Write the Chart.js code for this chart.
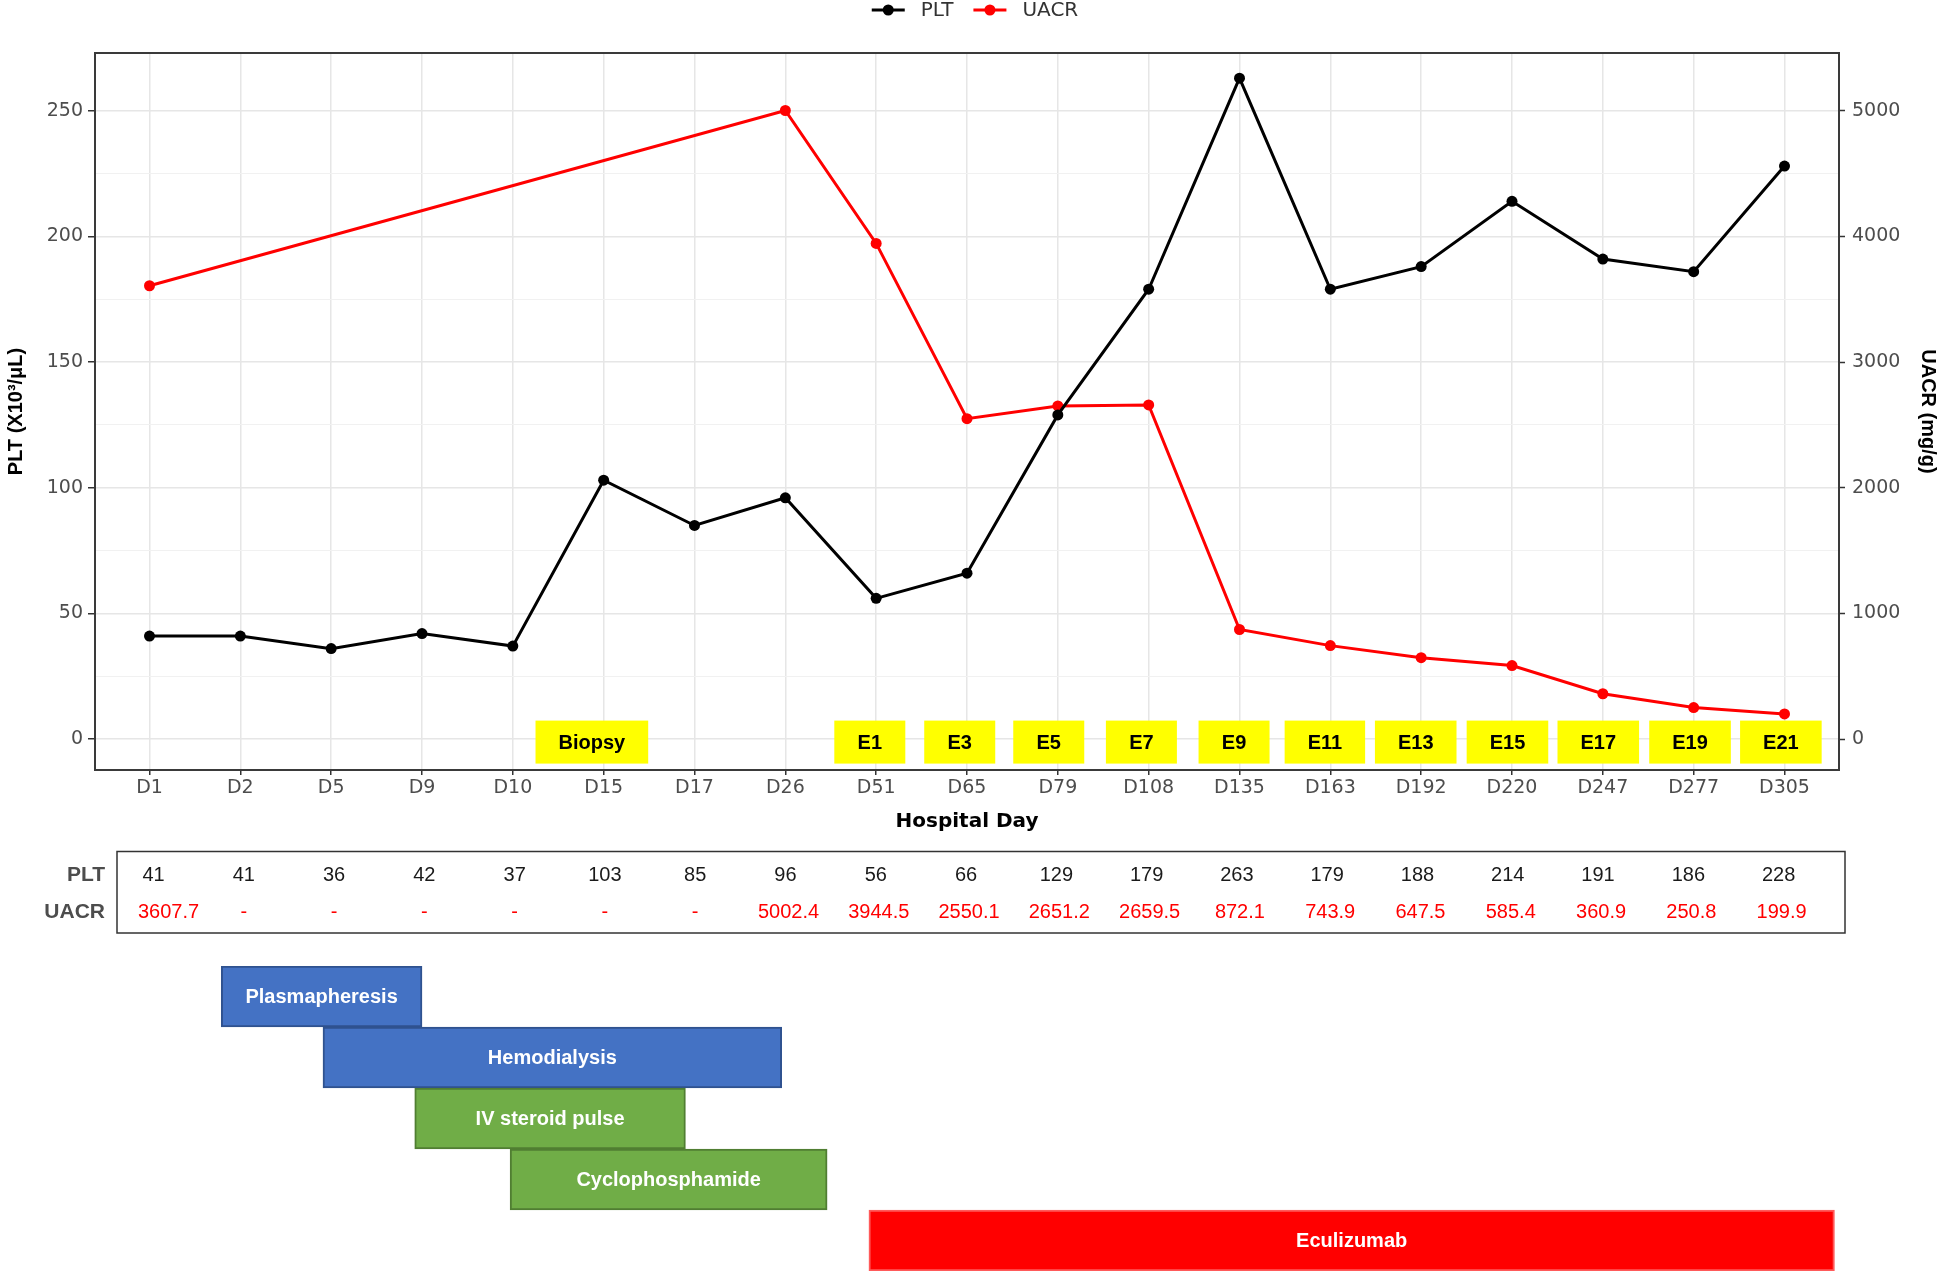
<!DOCTYPE html>
<html>
<head>
<meta charset="utf-8">
<script src="https://cdn.jsdelivr.net/npm/chart.js@4.4.1/dist/chart.umd.min.js"></script>
<style>
  html, body { margin: 0; padding: 0; background: #ffffff; }
  #wrap { position: relative; width: 1946px; height: 1275px; overflow: hidden; }
  #main { position: absolute; left: 0; top: 0; }
  #gantt { position: absolute; left: 0; top: 966px; }
</style>
</head>
<body>
<div id="wrap">
  <canvas id="main" width="1946" height="955"></canvas>
  <canvas id="gantt" width="1946" height="305"></canvas>
</div>
<script>
// ---------- data ----------
const days = ['D1','D2','D5','D9','D10','D15','D17','D26','D51','D65','D79','D108','D135','D163','D192','D220','D247','D277','D305'];
const plt = [41, 41, 36, 42, 37, 103, 85, 96, 56, 66, 129, 179, 263, 179, 188, 214, 191, 186, 228];
const uacr = [3607.7, null, null, null, null, null, null, 5002.4, 3944.5, 2550.1, 2651.2, 2659.5, 872.1, 743.9, 647.5, 585.4, 360.9, 250.8, 199.9];
const pltTicks = [0, 50, 100, 150, 200, 250];
const uacrTicks = [0, 1000, 2000, 3000, 4000, 5000];
const eventLabels = ['Biopsy','E1','E3','E5','E7','E9','E11','E13','E15','E17','E19','E21'];
const eventPos = [4.87, 7.93, 8.92, 9.9, 10.92, 11.94, 12.94, 13.94, 14.95, 15.95, 16.96, 17.96];
const treatments = ['Plasmapheresis','Hemodialysis','IV steroid pulse','Cyclophosphamide','Eculizumab'];
const treatStart = [0.79, 1.91, 2.92, 3.97, 7.92];
const treatEnd = [3.0, 6.96, 5.9, 7.46, 18.55];
const treatFill = ['#4472c4','#4472c4','#70ad47','#70ad47','#ff0000'];
const treatBorder = ['#2f528f','#2f528f','#507e32','#507e32','#ff5a5a'];

// ---------- scale settings ----------
const PLT_MIN = -12.3, PLT_MAX = 273, RATIO = 20;
const X_MIN = -0.6, X_MAX = days.length - 1 + 0.6;

const yGrid = [];
pltTicks.forEach((v, i) => {
  yGrid.push(v);
  if (i < pltTicks.length - 1) yGrid.push((v + pltTicks[i + 1]) / 2);
});
const isMajor = (c) => c.tick && pltTicks.includes(c.tick.value);

const TICK_FONT = { family: 'DejaVu Sans', size: 19 };
const TICK_COLOR = '#4d4d4d';

const extras = {
  id: 'extras',
  afterDatasetsDraw(chart) {
    const { ctx, scales: { x, y } } = chart;
    ctx.save();
    ctx.font = 'bold 20px "Liberation Sans"';
    ctx.textAlign = 'center';
    ctx.textBaseline = 'middle';
    eventLabels.forEach((lab, i) => {
      const cx = x.getPixelForValue(eventPos[i]);
      const cy = y.getPixelForValue(0) + 3;
      const w = Math.max(71, ctx.measureText(lab).width + 46);
      const h = 43;
      ctx.fillStyle = '#ffff00';
      ctx.fillRect(cx - w / 2, cy - h / 2, w, h);
      ctx.fillStyle = '#000000';
      ctx.fillText(lab, cx, cy + 1);
    });
    ctx.restore();
  },
  afterDraw(chart) {
    const { ctx, chartArea: ca, scales: { x } } = chart;
    ctx.save();
    // panel border
    ctx.strokeStyle = '#3a3a3a';
    ctx.lineWidth = 2;
    ctx.strokeRect(ca.left, ca.top, ca.right - ca.left, ca.bottom - ca.top);

    // legend
    ctx.font = '20px "DejaVu Sans"';
    ctx.textBaseline = 'middle';
    ctx.textAlign = 'left';
    const items = chart.data.datasets.map(ds => ({ label: ds.label, color: ds.borderColor, w: ctx.measureText(ds.label).width }));
    const keyW = 33, gapKT = 16, gapItems = 20;
    let total = 0;
    items.forEach((it, i) => { total += keyW + gapKT + it.w + (i ? gapItems : 0); });
    let lx = chart.width / 2 + 2 - total / 2;
    const ly = 10;
    items.forEach(it => {
      ctx.strokeStyle = it.color;
      ctx.lineWidth = 3;
      ctx.beginPath(); ctx.moveTo(lx, ly); ctx.lineTo(lx + keyW, ly); ctx.stroke();
      ctx.fillStyle = it.color;
      ctx.beginPath(); ctx.arc(lx + keyW / 2, ly, 5.5, 0, Math.PI * 2); ctx.fill();
      ctx.fillStyle = '#333333';
      ctx.fillText(it.label, lx + keyW + gapKT, ly + 1);
      lx += keyW + gapKT + it.w + gapItems;
    });

    // value table
    const tTop = 851.5, tBot = 933;
    ctx.strokeStyle = '#333333';
    ctx.lineWidth = 1.5;
    ctx.strokeRect(117, tTop, 1845 - 117, tBot - tTop);
    const row1 = 875, row2 = 912;
    ctx.font = 'bold 21px "Liberation Sans"';
    ctx.fillStyle = '#4d4d4d';
    ctx.textAlign = 'right';
    ctx.fillText('PLT', 105, row1);
    ctx.fillText('UACR', 105, row2);
    ctx.font = '20px "Liberation Sans"';
    ctx.textAlign = 'center';
    plt.forEach((v, i) => {
      const px = x.getPixelForValue(i) + 4 - i * 0.55;
      ctx.fillStyle = '#1a1a1a';
      ctx.fillText(String(v), px, row1);
      ctx.fillStyle = '#ff0000';
      const u = uacr[i];
      ctx.fillText(u === null ? '-' : u.toFixed(1), px + (u === null ? 0 : 3) + (i === 0 ? 12 : 0), row2);
    });
    ctx.restore();
  }
};

const mainChart = new Chart(document.getElementById('main'), {
  type: 'line',
  data: {
    datasets: [
      {
        label: 'PLT',
        data: plt.map((v, i) => ({ x: i, y: v })),
        borderColor: '#000000',
        backgroundColor: '#000000',
        pointBackgroundColor: '#000000',
        borderWidth: 3,
        pointRadius: 5.5,
        pointBorderWidth: 0,
        yAxisID: 'y',
        tension: 0
      },
      {
        label: 'UACR',
        data: uacr.map((v, i) => ({ x: i, y: v })).filter(p => p.y !== null),
        borderColor: '#ff0000',
        backgroundColor: '#ff0000',
        pointBackgroundColor: '#ff0000',
        borderWidth: 3,
        pointRadius: 5.5,
        pointBorderWidth: 0,
        yAxisID: 'y2',
        tension: 0
      }
    ]
  },
  options: {
    responsive: false,
    maintainAspectRatio: false,
    animation: false,
    layout: { padding: { top: 53, bottom: 120, left: 0, right: 0 } },
    plugins: { legend: { display: false }, tooltip: { enabled: false } },
    scales: {
      x: {
        type: 'linear',
        position: 'bottom',
        min: X_MIN,
        max: X_MAX,
        afterBuildTicks: s => { s.ticks = days.map((d, i) => ({ value: i })); },
        afterFit: s => { s.height = 65; },
        ticks: {
          callback: v => days[v] ?? '',
          font: TICK_FONT,
          color: TICK_COLOR,
          padding: 2,
          maxRotation: 0,
          autoSkip: false
        },
        grid: { color: '#e6e6e6', lineWidth: 1.5, tickLength: 5, tickColor: '#333333', tickWidth: 1.5 },
        border: { display: false },
        title: {
          display: true,
          text: 'Hospital Day',
          font: { family: 'DejaVu Sans', size: 20, weight: 'bold' },
          color: '#000000',
          padding: { top: 0, bottom: 1 }
        }
      },
      y: {
        type: 'linear',
        position: 'left',
        min: PLT_MIN,
        max: PLT_MAX,
        afterBuildTicks: s => { s.ticks = yGrid.map(v => ({ value: v })); },
        afterFit: s => { s.width = 95; },
        ticks: {
          callback: v => pltTicks.includes(v) ? String(v) : '',
          font: TICK_FONT,
          color: TICK_COLOR,
          padding: 5
        },
        grid: {
          color: c => isMajor(c) ? '#e6e6e6' : '#f1f1f1',
          lineWidth: c => isMajor(c) ? 1.5 : 1,
          tickLength: 7,
          tickWidth: 1.5,
          tickColor: c => isMajor(c) ? '#333333' : 'rgba(0,0,0,0)'
        },
        border: { display: false },
        title: {
          display: true,
          text: 'PLT (X10³/μL)',
          font: { family: 'Liberation Sans', size: 20, weight: 'bold' },
          color: '#000000',
          padding: { top: 4, bottom: 0 }
        }
      },
      y2: {
        type: 'linear',
        position: 'right',
        min: PLT_MIN * RATIO,
        max: PLT_MAX * RATIO,
        afterBuildTicks: s => { s.ticks = uacrTicks.map(v => ({ value: v })); },
        afterFit: s => { s.width = 107; },
        ticks: {
          callback: v => String(v),
          font: TICK_FONT,
          color: TICK_COLOR,
          padding: 7
        },
        grid: { drawOnChartArea: false, tickLength: 6, tickWidth: 1.5, tickColor: '#333333' },
        border: { display: false },
        title: {
          display: true,
          text: 'UACR (mg/g)',
          font: { family: 'Liberation Sans', size: 20, weight: 'bold' },
          color: '#000000',
          padding: { top: 6, bottom: 0 }
        }
      }
    }
  },
  plugins: [extras]
});

// ---------- treatment timeline ----------
const ca = mainChart.chartArea;
const barLabels = {
  id: 'barLabels',
  afterDatasetsDraw(chart) {
    const { ctx } = chart;
    const meta = chart.getDatasetMeta(0);
    ctx.save();
    ctx.font = 'bold 20px "Liberation Sans"';
    ctx.fillStyle = '#ffffff';
    ctx.textAlign = 'center';
    ctx.textBaseline = 'middle';
    meta.data.forEach((el, i) => {
      const { x, y, base } = el.getProps(['x', 'y', 'base'], true);
      ctx.fillText(chart.data.labels[i], (x + base) / 2, y + 1);
    });
    ctx.restore();
  }
};

new Chart(document.getElementById('gantt'), {
  type: 'bar',
  data: {
    labels: treatments,
    datasets: [{
      data: treatStart.map((s, i) => [s, treatEnd[i]]),
      backgroundColor: treatFill,
      borderColor: treatBorder,
      borderWidth: 2,
      borderSkipped: false,
      categoryPercentage: 1,
      barPercentage: 1
    }]
  },
  options: {
    indexAxis: 'y',
    responsive: false,
    maintainAspectRatio: false,
    animation: false,
    layout: { padding: { left: ca.left, right: 1946 - ca.right, top: 0, bottom: 0 } },
    plugins: { legend: { display: false }, tooltip: { enabled: false } },
    scales: {
      x: { type: 'linear', min: X_MIN, max: X_MAX, display: false },
      y: { type: 'category', display: false }
    }
  },
  plugins: [barLabels]
});
</script>
</body>
</html>
